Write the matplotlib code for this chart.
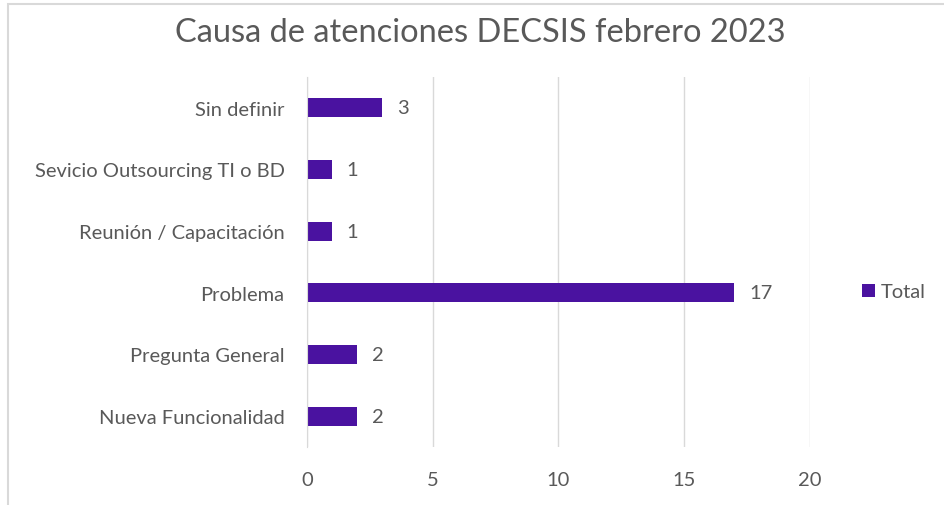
import matplotlib.pyplot as plt
from matplotlib.patches import Rectangle

plt.rcParams['font.family'] = ['Lato', 'DejaVu Sans']

# Data
categorias = ['Nueva Funcionalidad', 'Pregunta General', 'Problema',
              'Reunión / Capacitación', 'Sevicio Outsourcing TI o BD', 'Sin definir']
total = [2, 2, 17, 1, 1, 3]
ticks_x = [0, 5, 10, 15, 20]

color_barra = '#4A12A0'
gris_texto = '#595959'
gris_linea = '#D9D9D9'

fig = plt.figure(figsize=(9.44, 5.06), dpi=100)
ax = fig.add_axes([0.325, 0.1146, 0.533, 0.7314])

# Chart border (cropped at right and bottom like the reference)
fig.patches.append(Rectangle((8 / 944, -0.05), 1.0, 1 - 5 / 506 + 0.05,
                             transform=fig.transFigure, fill=False,
                             edgecolor='#D9D9D9', lw=1.5))

y = range(len(categorias))
bars = ax.barh(y, total, height=0.31, color=color_barra, label='Total', zorder=3)

for yi, v in zip(y, total):
    ax.text(v + 0.58, yi, str(v), va='center', ha='left', fontsize=14.5, color=gris_texto)

ax.set_xlim(0, 20)
ax.set_ylim(-0.5, len(categorias) - 0.5)
ax.set_xticks(ticks_x)
ax.set_yticks(list(y))
ax.set_yticklabels(categorias, fontsize=15)
ax.tick_params(length=0, labelsize=14.5, colors=gris_texto)
ax.tick_params(axis='x', pad=17)
ax.tick_params(axis='y', pad=16)
ax.grid(axis='x', color=gris_linea, lw=1, zorder=0)
for s in ['top', 'right', 'bottom']:
    ax.spines[s].set_visible(False)
ax.spines['left'].set_color(gris_linea)
ax.spines['left'].set_zorder(4)

fig.text(0.509, 0.935, 'Causa de atenciones DECSIS febrero 2023', ha='center', va='center',
         fontsize=23.5, color=gris_texto)

fig.legend(handles=[bars], labels=['Total'], loc='center left',
           bbox_to_anchor=(0.8935, 0.421), frameon=False, fontsize=14.5,
           labelcolor=gris_texto, handlelength=0.65, handleheight=0.65, handletextpad=0.3)

fig.savefig('out.png', dpi=100, facecolor='white')
